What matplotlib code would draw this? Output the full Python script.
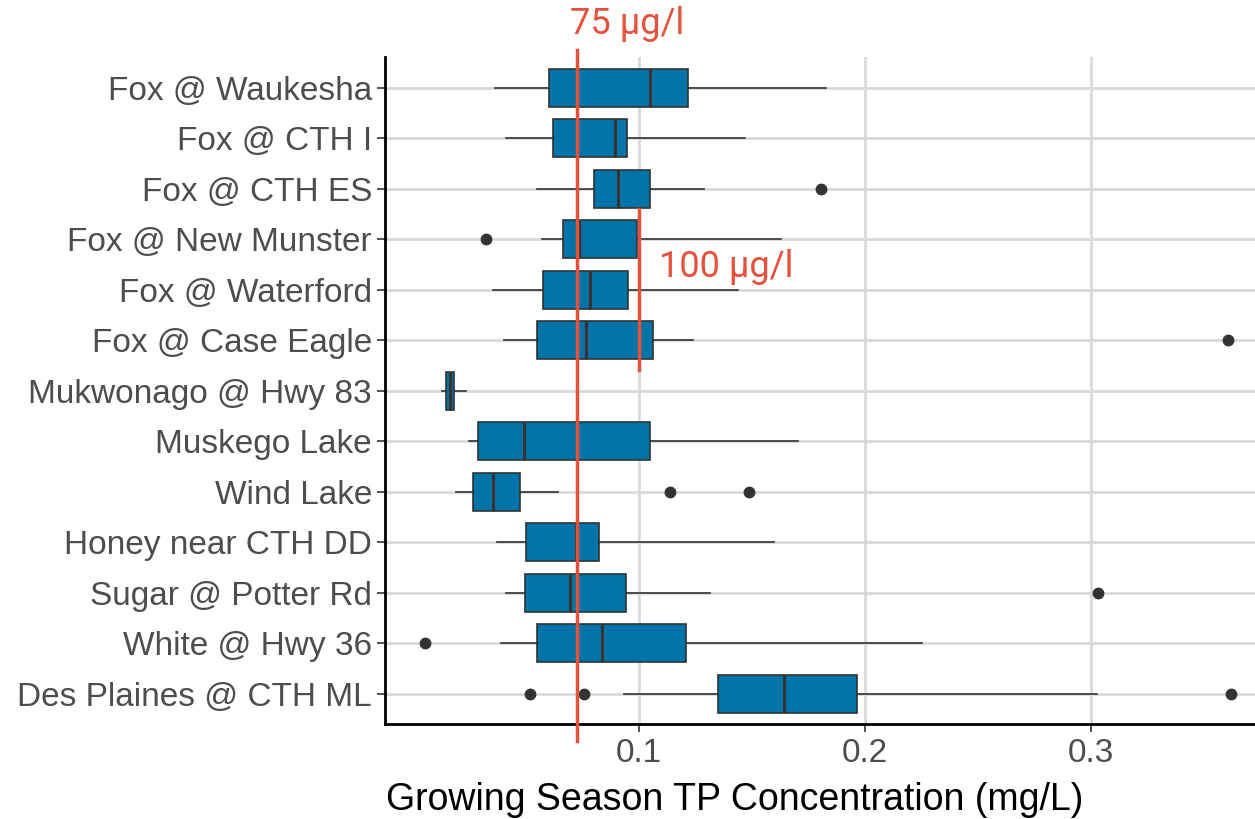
import numpy as np
import matplotlib.pyplot as plt

# станции (сверху вниз)
sites = ['Fox @ Waukesha', 'Fox @ CTH I', 'Fox @ CTH ES', 'Fox @ New Munster',
         'Fox @ Waterford', 'Fox @ Case Eagle', 'Mukwonago @ Hwy 83',
         'Muskego Lake', 'Wind Lake', 'Honey near CTH DD', 'Sugar @ Potter Rd',
         'White @ Hwy 36', 'Des Plaines @ CTH ML']

# статистика ящиков, мг/л
whis_lo = [0.0363, 0.0410, 0.0551, 0.0572, 0.0354, 0.0403, 0.0129,
           0.0249, 0.0193, 0.0370, 0.0410, 0.0390, 0.0933]
q1 = [0.0602, 0.0622, 0.0802, 0.0662, 0.0574, 0.0548, 0.0146,
      0.0288, 0.0268, 0.0499, 0.0494, 0.0551, 0.1351]
med = [0.1051, 0.0895, 0.0908, 0.0736, 0.0783, 0.0764, 0.0163,
       0.0492, 0.0353, 0.0720, 0.0696, 0.0837, 0.1642]
q3 = [0.1218, 0.0946, 0.1051, 0.0993, 0.0952, 0.1060, 0.0183,
      0.1051, 0.0474, 0.0824, 0.0943, 0.1207, 0.1963]
whis_hi = [0.1827, 0.1469, 0.1288, 0.1627, 0.1439, 0.1239, 0.0236,
           0.1704, 0.0641, 0.1597, 0.1314, 0.2252, 0.3027]
outliers = [[], [], [0.1807], [0.0325], [], [0.3606], [],
            [], [0.1139, 0.1488], [], [0.3030], [0.0054], [0.0519, 0.0758, 0.3620]]

limit_75 = 0.0725
limit_100 = 0.1

red = '#e4513c'
box_col = '#0073a8'
dark = '#333333'

fig = plt.figure(figsize=(12.55, 8.19), dpi=100)
ax = fig.add_axes([0.307, 0.116, 0.693, 0.814])

stats = []
for i in range(len(sites)):
    stats.append(dict(whislo=whis_lo[i], q1=q1[i], med=med[i], q3=q3[i],
                      whishi=whis_hi[i], fliers=outliers[i], label=sites[i]))

pos = np.arange(len(sites))
ax.bxp(stats, positions=pos, vert=False, widths=0.75, patch_artist=True,
       showcaps=False, zorder=3,
       boxprops=dict(facecolor=box_col, edgecolor=dark, linewidth=1.2),
       medianprops=dict(color=dark, linewidth=2.2),
       whiskerprops=dict(color=dark, linewidth=1.2),
       flierprops=dict(marker='o', markerfacecolor=dark, markeredgecolor=dark,
                       markersize=7.5))

# сетка
for y in pos:
    ax.axhline(y, color='#d9d9d9', linewidth=2, zorder=0)
for x in [0.1, 0.2, 0.3]:
    ax.axvline(x, color='#d9d9d9', linewidth=2, zorder=0)

ax.set_xlim(-0.0122, 0.3725)
ax.set_ylim(len(sites) - 0.4, -0.6)

# пороговые линии
ax.plot([limit_75, limit_75], [-0.74, 12.93], color=red, linewidth=2.5,
        clip_on=False, zorder=4)
ax.plot([limit_100, limit_100], [2.4, 5.6], color=red, linewidth=2.5, zorder=4)
ax.text(0.0694, -1.07, '75 µg/l', color=red, fontsize=26, family='Roboto',
        ha='left', va='baseline', clip_on=False)
ax.text(0.1088, 3.74, '100 µg/l', color=red, fontsize=26, family='Roboto',
        ha='left', va='baseline')

ax.set_yticks(pos)
ax.set_yticklabels(sites)
ax.set_xticks([0.1, 0.2, 0.3])
ax.set_xticklabels(['0.1', '0.2', '0.3'])
ax.tick_params(axis='both', colors=dark, length=6, width=1.2,
               labelsize=24, labelcolor='#4d4d4d')
ax.tick_params(axis='x', pad=4)
for lab in ax.get_xticklabels() + ax.get_yticklabels():
    lab.set_family('Liberation Sans')

fig.text(735 / 1255, 1 - 810 / 819, 'Growing Season TP Concentration (mg/L)',
         fontsize=27, family='Liberation Sans', color='black',
         ha='center', va='baseline')

for s in ['top', 'right']:
    ax.spines[s].set_visible(False)
for s in ['left', 'bottom']:
    ax.spines[s].set_linewidth(2)
    ax.spines[s].set_color('black')

fig.savefig('out.png', dpi=100)
